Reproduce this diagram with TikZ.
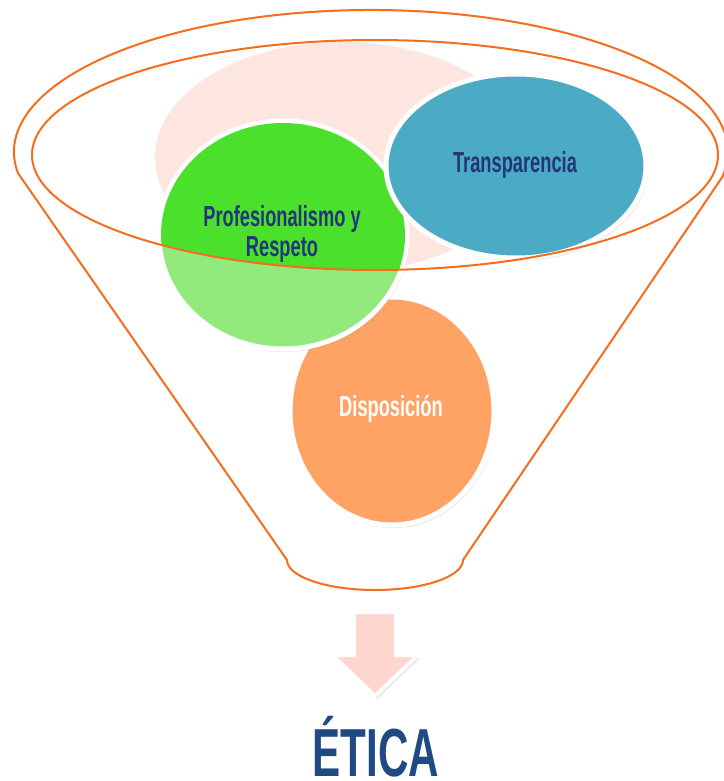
\documentclass[tikz,border=0pt]{standalone}
\usepackage{fontspec}
\newfontfamily\lblfont{Liberation Sans}[FakeStretch=0.63]
\newfontfamily\titlefont{Liberation Sans}[FakeStretch=0.62]
\usetikzlibrary{shapes.geometric,shadows}
\definecolor{pinkblob}{RGB}{253,229,224}
\definecolor{greenbright}{RGB}{75,224,43}
\definecolor{greenlight}{RGB}{147,234,124}
\definecolor{bluefill}{RGB}{75,170,196}
\definecolor{orangefill}{RGB}{255,163,101}
\definecolor{arrowpink}{RGB}{255,213,208}
\definecolor{labelnavy}{RGB}{35,55,120}
\definecolor{eticablue}{RGB}{31,75,130}
\definecolor{funnelline}{RGB}{245,110,30}
\begin{document}
\begin{tikzpicture}[x=1pt,y=1pt,
  bubble/.style={ellipse, draw=white, line width=5pt, inner sep=0pt,
    drop shadow={opacity=0.18, shadow xshift=2pt, shadow yshift=-3pt}},
  lbl/.style={font=\lblfont\bfseries\fontsize{29}{29}\selectfont, text=labelnavy, align=center, inner sep=0pt},
  funnel/.style={draw=funnelline, line width=2pt},
]
\useasboundingbox (0,0) rectangle (723,-781);
\fill[white] (0,0) rectangle (723,-781);
\coordinate (ic) at (375,-155);
% pink blob
\fill[pinkblob] (342,-157) ellipse [x radius=187, y radius=115];
% funnel outline
\draw[funnel, line join=round] (18.0,-173.2)
  arc[start angle=188.6, end angle=-10, x radius=357, y radius=142]
  -- (463,-560)
  arc[start angle=0, end angle=-180, x radius=88, y radius=30]
  -- cycle;
% circles
\node[bubble, fill=orangefill, minimum width=204pt, minimum height=228pt] (disp) at (392,-411) {};
\node[lbl, text=white] (disptext) at (391,-409) {Disposición};
\node[bubble, fill=greenlight, minimum width=248pt, minimum height=228pt] (prof) at (283,-235) {};
\begin{scope}
  \clip (ic) ellipse [x radius=343, y radius=115];
  \fill[greenbright] (prof.center) ellipse [x radius=122, y radius=112];
\end{scope}
\node[bubble, fill=bluefill, minimum width=260pt, minimum height=184pt] (transp) at (516,-166) {};
\node[lbl] (transptext) at (515,-165) {Transparencia};
% inner rim
\draw[funnel] (ic) ellipse [x radius=343, y radius=115];
\node[lbl] (proftext) at (282,-234) {Profesionalismo y\\Respeto};
% arrow
\path[draw=white, line width=4pt, fill=arrowpink, line join=miter,
  drop shadow={opacity=0.2, shadow xshift=2pt, shadow yshift=-3pt}]
  (354,-612) -- (396,-612) -- (396,-655) -- (418,-655) -- (375,-696)
  -- (332,-655) -- (354,-655) -- cycle;
% title
\node[font=\titlefont\bfseries\fontsize{68}{68}\selectfont, text=eticablue, anchor=base, inner sep=0pt] (etica) at (376,-776) {ÉTICA};
\end{tikzpicture}
\end{document}
